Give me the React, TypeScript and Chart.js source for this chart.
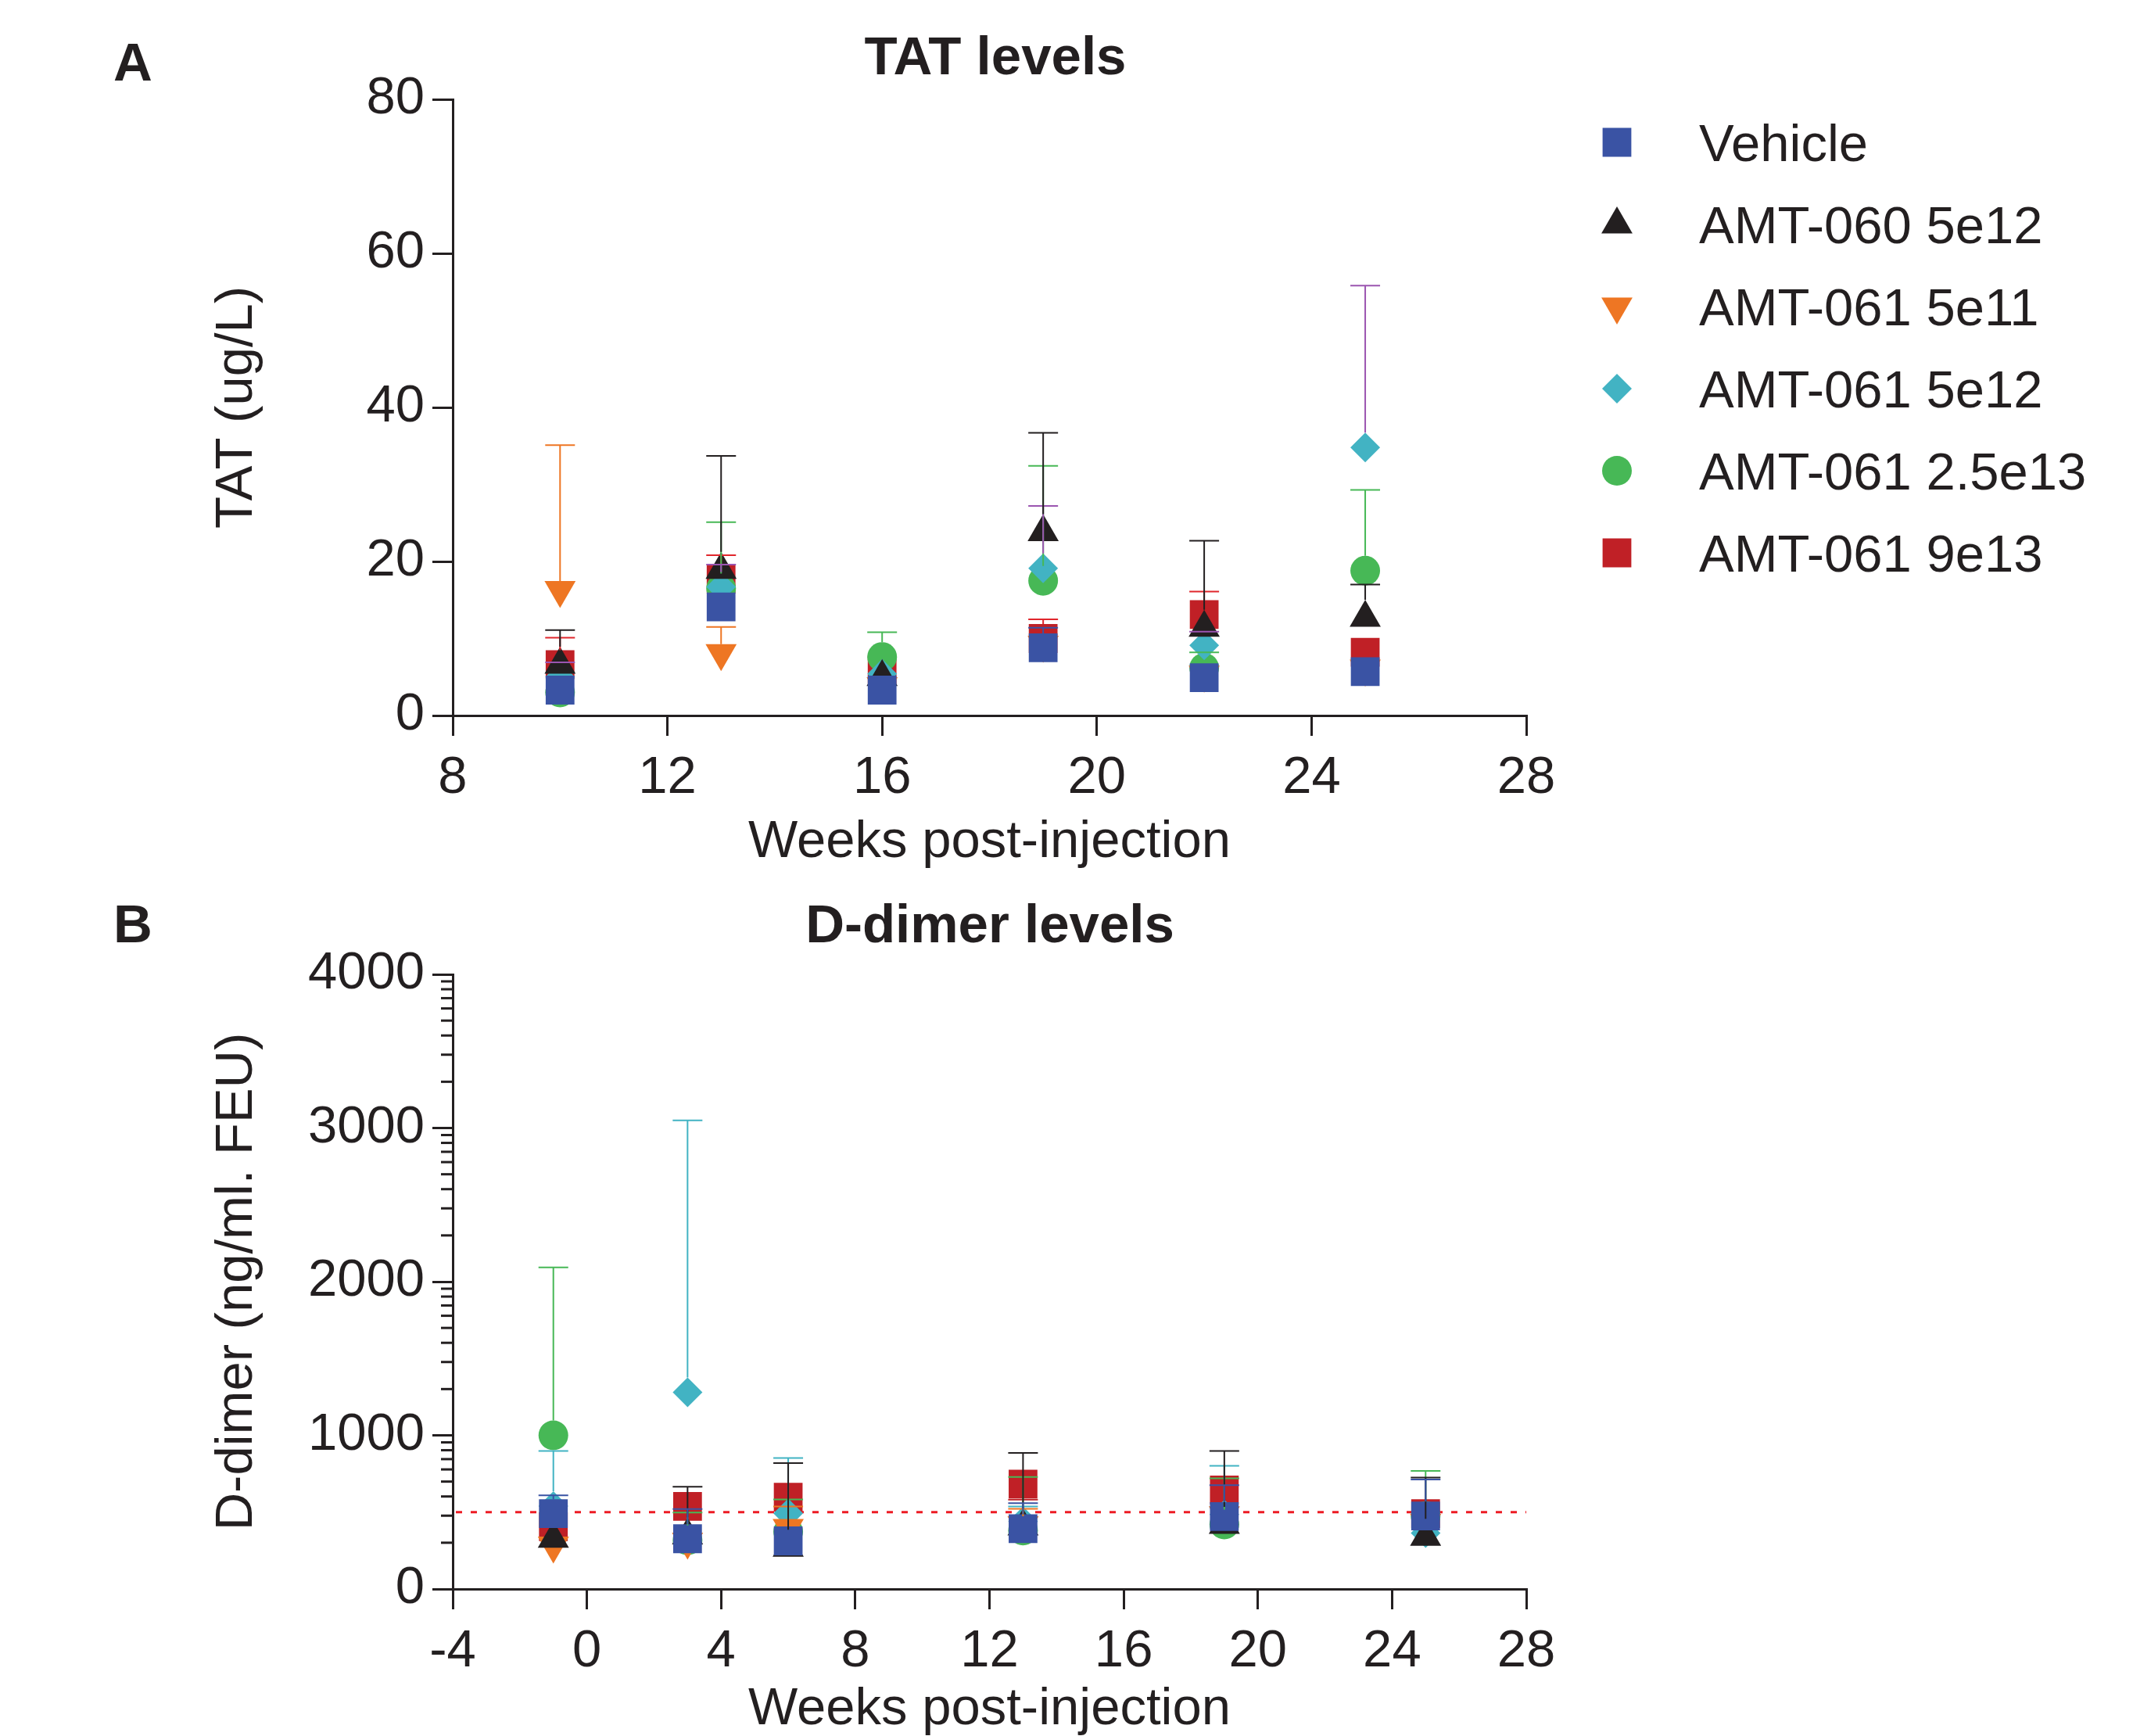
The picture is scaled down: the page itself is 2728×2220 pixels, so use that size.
import React, { useEffect, useRef } from 'react';
import { Chart, registerables } from 'chart.js';

Chart.register(...registerables);

const FONT = '"Liberation Sans", Arial, Helvetica, sans-serif';
const INK = '#231F20';
const TXT = 67;

// ---------- series definitions ----------
const seriesNames = ['Vehicle', 'AMT-060 5e12', 'AMT-061 5e11', 'AMT-061 5e12', 'AMT-061 2.5e13', 'AMT-061 9e13'];
const seriesColors = ['#3A53A4', '#231F20', '#EE7623', '#42B3C3', '#47B856', '#C02026'];
const seriesStyles = ['rect', 'triangle', 'triangle', 'rectRot', 'circle', 'rect'];
const seriesRotation = [0, 0, 180, 0, 0, 0];
const seriesRadius = [26, 23, 23, 19, 19, 26];

// ---------- Panel A: TAT (ug/L) ----------
const tatWeeks = [10, 13, 16, 19, 22, 25];
const tatVehicle = [3.3, 14.1, 3.3, 8.8, 4.9, 5.7];
const tatAmt060_5e12 = [6.6, 18.9, 5.0, 23.8, 11.4, 12.7];
const tatAmt061_5e11 = [16.3, 8.1, 3.8, 9.2, 5.3, 6.1];
const tatAmt061_5e12 = [5.0, 16.7, 5.4, 19.1, 9.1, 34.8];
const tatAmt061_25e13 = [3.0, 16.5, 7.6, 17.5, 6.2, 18.8];
const tatAmt061_9e13 = [6.6, 17.7, 6.0, 10.0, 13.1, 8.2];
// upper ends of error bars (mean + SD); null = not visible
const tatVehicleUpper = [null, null, null, 11.4, null, null];
const tatAmt060_5e12Upper = [11.1, 33.7, null, 36.7, 22.7, 17.0];
const tatAmt061_5e11Upper = [35.1, 11.5, null, null, null, null];
const tatAmt061_5e12Upper = [6.9, 19.6, null, 27.2, 10.9, 55.8];
const tatAmt061_25e13Upper = [null, 25.1, 10.8, 32.4, 8.2, 29.3];
const tatAmt061_9e13Upper = [10.1, 20.8, null, 12.5, 16.1, null];
const tatErrorColors = ['#3A53A4', '#231F20', '#EE7623', '#9B55B0', '#47B856', '#E0262C'];
const tatXTicks = [8, 12, 16, 20, 24, 28];
const tatYTicks = [0, 20, 40, 60, 80];

// ---------- Panel B: D-dimer (ng/ml FEU) ----------
const ddWeeks = [-1, 3, 6, 13, 19, 25];
const ddVehicle = [490, 327, 313, 393, 471, 475];
const ddAmt060_5e12 = [327, 349, 268, 407, 417, 340];
const ddAmt061_5e11 = [283, 308, 397, 415, 480, 430];
const ddAmt061_5e12 = [540, 1280, 492, 440, 485, 364];
const ddAmt061_25e13 = [1000, 317, 373, 381, 420, 475];
const ddAmt061_9e13 = [405, 537, 597, 683, 644, 490];
const ddVehicleUpper = [610, 520, null, 559, 675, 713];
const ddAmt060_5e12Upper = [null, 666, 819, 886, 898, 725];
const ddAmt061_5e11Upper = [null, null, 537, 522, null, null];
const ddAmt061_5e12Upper = [898, 3050, 852, 537, 802, null];
const ddAmt061_25e13Upper = [2093, 497, 583, 729, 720, 768];
const ddAmt061_9e13Upper = [null, null, null, 581, null, null];
const ddErrorColors = ['#3A53A4', '#231F20', '#EE7623', '#42B3C3', '#47B856', '#C02026'];
const ddXTicks = [-4, 0, 4, 8, 12, 16, 20, 24, 28];
const ddYTicks = [0, 1000, 2000, 3000, 4000];
const ddThreshold = 500;

function markerTop(i: number): number {
  const r = seriesRadius[i];
  const s = seriesStyles[i];
  if (s === 'rect') return r * Math.SQRT1_2;
  if (s === 'triangle') return seriesRotation[i] === 180 ? r / 2 : r;
  return r;
}

function drawMarker(ctx: CanvasRenderingContext2D, i: number, x: number, y: number) {
  const r = seriesRadius[i];
  const s = seriesStyles[i];
  ctx.fillStyle = seriesColors[i];
  ctx.beginPath();
  if (s === 'rect') {
    const h = r * Math.SQRT1_2;
    ctx.rect(x - h, y - h, 2 * h, 2 * h);
  } else if (s === 'rectRot') {
    ctx.moveTo(x - r, y); ctx.lineTo(x, y - r); ctx.lineTo(x + r, y); ctx.lineTo(x, y + r); ctx.closePath();
  } else if (s === 'circle') {
    ctx.arc(x, y, r, 0, Math.PI * 2);
  } else {
    let rad = (seriesRotation[i] * Math.PI) / 180;
    ctx.moveTo(x + Math.sin(rad) * r, y - Math.cos(rad) * r);
    rad += (2 * Math.PI) / 3;
    ctx.lineTo(x + Math.sin(rad) * r, y - Math.cos(rad) * r);
    rad += (2 * Math.PI) / 3;
    ctx.lineTo(x + Math.sin(rad) * r, y - Math.cos(rad) * r);
    ctx.closePath();
  }
  ctx.fill();
}

function makeDatasets(weeks: number[], values: number[][]) {
  return values.map((vals, i) => ({
    label: seriesNames[i],
    data: vals.map((v, j) => ({ x: weeks[j], y: v })),
    showLine: false,
    pointStyle: seriesStyles[i],
    pointRotation: seriesRotation[i],
    pointRadius: seriesRadius[i],
    pointHoverRadius: seriesRadius[i],
    pointBackgroundColor: seriesColors[i],
    pointBorderWidth: 0,
    backgroundColor: seriesColors[i],
    borderColor: seriesColors[i],
    borderWidth: 0,
  }));
}

function makeErrorPlugin(uppers: (number | null)[][], colors: string[]) {
  return {
    id: 'errbars',
    afterDatasetsDraw(chart: any) {
      const { ctx } = chart;
      const xs = chart.scales.x;
      const ys = chart.scales.y;
      ctx.save();
      ctx.lineWidth = 2;
      for (let i = chart.data.datasets.length - 1; i >= 0; i--) {
        const ds = chart.data.datasets[i];
        const up = uppers[i];
        ctx.strokeStyle = colors[i];
        ds.data.forEach((p: any, j: number) => {
          const u = up[j];
          if (u == null) return;
          const px = xs.getPixelForValue(p.x);
          const py = ys.getPixelForValue(p.y) - markerTop(i);
          const pu = ys.getPixelForValue(u);
          ctx.beginPath();
          if (pu < py) {
            ctx.moveTo(px, py);
            ctx.lineTo(px, pu);
          }
          ctx.moveTo(px - 19, pu);
          ctx.lineTo(px + 19, pu);
          ctx.stroke();
        });
      }
      ctx.restore();
    },
  };
}

function makeTextPlugin(letter: string, title: string, letterY: number, titleX: number, titleY: number, withLegend: boolean) {
  return {
    id: 'texts',
    afterDraw(chart: any) {
      const { ctx } = chart;
      ctx.save();
      ctx.fillStyle = INK;
      ctx.font = `bold 69px ${FONT}`;
      ctx.textAlign = 'center';
      ctx.textBaseline = 'alphabetic';
      ctx.fillText(letter, 170, letterY + 25);
      ctx.fillText(title, titleX, titleY + 25);
      if (withLegend) {
        ctx.font = `${TXT}px ${FONT}`;
        ctx.textAlign = 'left';
        seriesNames.forEach((name, i) => {
          const cy = 182 + i * 105;
          drawMarker(ctx, i, 2068, cy);
          ctx.fillStyle = INK;
          ctx.fillText(name, 2173, cy + 24);
        });
      }
      ctx.restore();
    },
  };
}

function makeThresholdPlugin(value: number) {
  return {
    id: 'threshold',
    beforeDatasetsDraw(chart: any) {
      const { ctx, chartArea } = chart;
      const y = chart.scales.y.getPixelForValue(value);
      ctx.save();
      ctx.strokeStyle = '#ED1C24';
      ctx.lineWidth = 3;
      ctx.setLineDash([8, 11]);
      ctx.beginPath();
      ctx.moveTo(chartArea.left + 4, y);
      ctx.lineTo(chartArea.right, y);
      ctx.stroke();
      ctx.restore();
    },
  };
}

function makeMinorTickPlugin(majors: number[]) {
  return {
    id: 'minorTicks',
    afterDraw(chart: any) {
      const { ctx, chartArea } = chart;
      const ys = chart.scales.y;
      ctx.save();
      ctx.strokeStyle = INK;
      ctx.lineWidth = 3;
      for (let k = 0; k < majors.length - 1; k++) {
        const lo = majors[k];
        const span = majors[k + 1] - majors[k];
        for (let n = 2; n <= 9; n++) {
          const v = lo + span * Math.log10(n);
          const y = ys.getPixelForValue(v);
          ctx.beginPath();
          ctx.moveTo(chartArea.left, y);
          ctx.lineTo(chartArea.left - 15, y);
          ctx.stroke();
        }
      }
      ctx.restore();
    },
  };
}

function axisCommon(ticksArr: number[], titleText: string, isX: boolean, size: number, titlePad: any) {
  return {
    type: 'linear',
    min: ticksArr[0],
    max: ticksArr[ticksArr.length - 1],
    afterBuildTicks: (scale: any) => {
      scale.ticks = ticksArr.map((v) => ({ value: v }));
    },
    ticks: {
      font: { family: FONT, size: TXT },
      color: INK,
      padding: isX ? 14 : 10,
      maxRotation: 0,
      autoSkip: false,
      callback: (v: any) => String(v),
    },
    grid: {
      drawOnChartArea: false,
      drawTicks: true,
      tickLength: 26,
      tickWidth: 3,
      tickColor: INK,
      color: INK,
      lineWidth: 3,
    },
    border: { color: INK, width: 3 },
    title: {
      display: true,
      text: titleText,
      color: INK,
      font: { family: FONT, size: TXT, lineHeight: 1 },
      padding: titlePad,
    },
    afterFit: (scale: any) => {
      if (isX) scale.height = size;
      else scale.width = size;
    },
  };
}

function buildConfig(
  weeks: number[],
  values: number[][],
  uppers: (number | null)[][],
  errColors: string[],
  xTicks: number[],
  yTicks: number[],
  yTitle: string,
  padTop: number,
  xHeight: number,
  xTitlePadBottom: number,
  extraPlugins: any[],
): any {
  return {
    type: 'scatter',
    data: { datasets: makeDatasets(weeks, values) },
    options: {
      animation: false,
      responsive: false,
      devicePixelRatio: 1,
      events: [],
      layout: { padding: { left: 240, right: 776, top: padTop, bottom: 0 } },
      plugins: {
        legend: { display: false },
        tooltip: { enabled: false },
        title: { display: false },
      },
      scales: {
        x: axisCommon(xTicks, 'Weeks post-injection', true, xHeight, { top: 0, bottom: xTitlePadBottom }),
        y: axisCommon(yTicks, yTitle, false, 339, { top: 30, bottom: 0 }),
      },
    },
    plugins: [makeErrorPlugin(uppers, errColors), ...extraPlugins],
  };
}

export default function App() {
  const refA = useRef<HTMLCanvasElement>(null);
  const refB = useRef<HTMLCanvasElement>(null);

  useEffect(() => {
    const chartA = new Chart(
      refA.current as HTMLCanvasElement,
      buildConfig(
        tatWeeks,
        [tatVehicle, tatAmt060_5e12, tatAmt061_5e11, tatAmt061_5e12, tatAmt061_25e13, tatAmt061_9e13],
        [tatVehicleUpper, tatAmt060_5e12Upper, tatAmt061_5e11Upper, tatAmt061_5e12Upper, tatAmt061_25e13Upper, tatAmt061_9e13Upper],
        tatErrorColors,
        tatXTicks,
        tatYTicks,
        'TAT (ug/L)',
        127,
        215,
        19,
        [makeTextPlugin('A', 'TAT levels', 78, 1273, 70, true)],
      ),
    );
    const chartB = new Chart(
      refB.current as HTMLCanvasElement,
      buildConfig(
        ddWeeks,
        [ddVehicle, ddAmt060_5e12, ddAmt061_5e11, ddAmt061_5e12, ddAmt061_25e13, ddAmt061_9e13],
        [ddVehicleUpper, ddAmt060_5e12Upper, ddAmt061_5e11Upper, ddAmt061_5e12Upper, ddAmt061_25e13Upper, ddAmt061_9e13Upper],
        ddErrorColors,
        ddXTicks,
        ddYTicks,
        'D-dimer (ng/ml. FEU)',
        116,
        188,
        0,
        [
          makeThresholdPlugin(ddThreshold),
          makeMinorTickPlugin(ddYTicks),
          makeTextPlugin('B', 'D-dimer levels', 50, 1266, 50, false),
        ],
      ),
    );
    return () => {
      chartA.destroy();
      chartB.destroy();
    };
  }, []);

  return (
    <div
      style={{
        position: 'absolute',
        left: 0,
        top: 0,
        width: 2728,
        height: 2220,
        overflow: 'hidden',
        background: '#ffffff',
      }}
    >
      <canvas ref={refA} width={2728} height={1130} style={{ position: 'absolute', left: 0, top: 0 }} />
      <canvas ref={refB} width={2728} height={1090} style={{ position: 'absolute', left: 0, top: 1130 }} />
    </div>
  );
}
